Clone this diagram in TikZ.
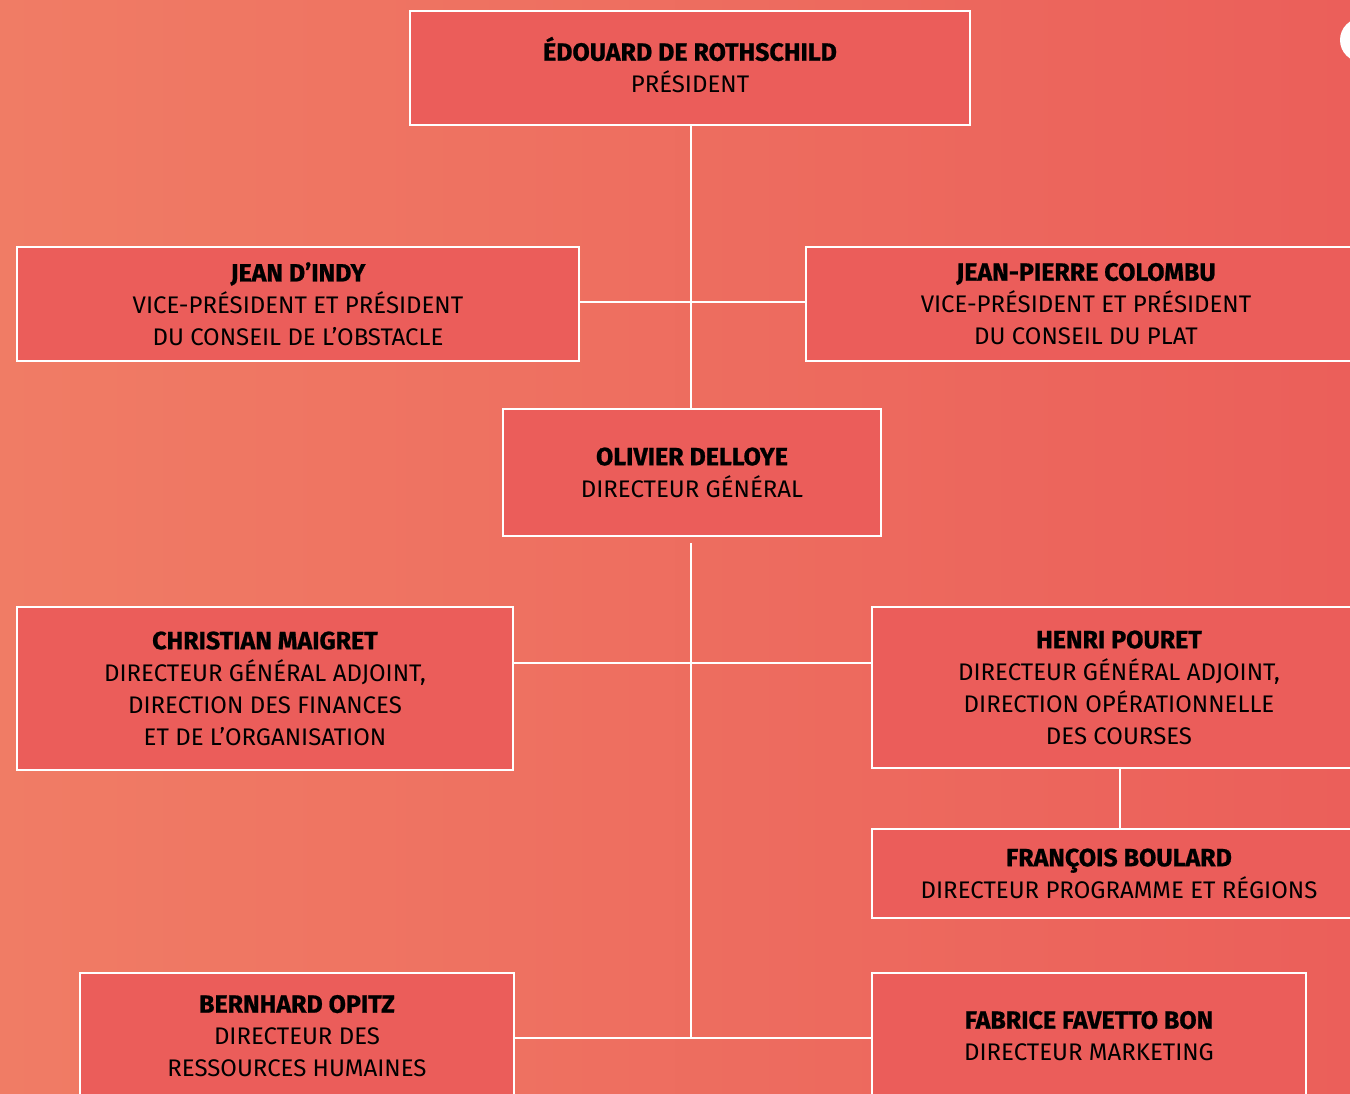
\documentclass[tikz,border=0pt]{standalone}
\usepackage{fontspec}
\setmainfont{Fira Sans}[BoldFeatures={FakeBold=0.8}]
\usetikzlibrary{calc}
\definecolor{bgL}{RGB}{240,124,101}
\definecolor{bgR}{RGB}{235,95,90}
\definecolor{boxfill}{RGB}{235,93,90}
\newcommand{\nm}[1]{{\bfseries\fontsize{12.5pt}{16pt}\selectfont #1}}
\tikzset{
  orgbox/.style={draw=white, line width=0.7pt, fill=boxfill, align=center,
    inner sep=0pt, font=\fontsize{12pt}{16pt}\selectfont, text=black},
  link/.style={draw=white, line width=1pt}
}
\begin{document}
\begin{tikzpicture}[x=0.5pt,y=-0.5pt]
\useasboundingbox (0,0) rectangle (1350,1093);
\shade[left color=bgL, right color=bgR] (0,0) rectangle (1350,1093);
\begin{scope}
\clip (0,0) rectangle (1350,1093);
\node[orgbox, minimum width=280pt, minimum height=57pt] (pres) at (690,68)
  {\nm{\smash{É}DOUARD DE ROTHSCHILD}\\PRÉSIDENT};
\node[orgbox, minimum width=281pt, minimum height=57pt] (indy) at (298,304)
  {\nm{JEAN D’INDY}\\VICE-PRÉSIDENT ET PRÉSIDENT\\DU CONSEIL DE L’OBSTACLE};
\node[orgbox, minimum width=280pt, minimum height=57pt] (colombu) at (1086,304)
  {\nm{JEAN-PIERRE COLOMBU}\\VICE-PRÉSIDENT ET PRÉSIDENT\\DU CONSEIL DU PLAT};
\node[orgbox, minimum width=189pt, minimum height=63.5pt] (delloye) at (692,472.5)
  {\nm{OLIVIER DELLOYE}\\DIRECTEUR GÉNÉRAL};
\node[orgbox, minimum width=248pt, minimum height=81.5pt] (maigret) at (265,688.5)
  {\nm{CHRISTIAN MAIGRET}\\DIRECTEUR GÉNÉRAL ADJOINT,\\DIRECTION DES FINANCES\\ET DE L’ORGANISATION};
\node[orgbox, minimum width=247pt, minimum height=80.5pt] (pouret) at (1119,687.5)
  {\nm{HENRI POURET}\\DIRECTEUR GÉNÉRAL ADJOINT,\\DIRECTION OPÉRATIONNELLE\\DES COURSES};
\node[orgbox, minimum width=247pt, minimum height=44.5pt] (boulard) at (1119,873.5)
  {\nm{FRANÇOIS BOULARD}\\DIRECTEUR PROGRAMME ET RÉGIONS};
\node[orgbox, minimum width=217pt, minimum height=63pt] (opitz) at (297,1036)
  {\nm{BERNHARD OPITZ}\\DIRECTEUR DES\\RESSOURCES HUMAINES};
\node[orgbox, minimum width=217pt, minimum height=63pt] (favetto) at (1089,1036)
  {\nm{FABRICE FAVETTO BON}\\DIRECTEUR MARKETING};
\end{scope}
% connectors
\draw[link] (pres.south -| 691,0) -- (delloye.north -| 691,0);
\draw[link] (indy.east |- 0,302) -- (colombu.west |- 0,302);
\coordinate (trunkTop) at (691,543);
\coordinate (trunkBot) at (691,1038);
\draw[link] (trunkTop) -- (trunkBot);
\draw[link] (maigret.east |- 0,663) -- (pouret.west |- 0,663);
\draw[link] (pouret.south -| 1120,0) -- (boulard.north -| 1120,0);
\draw[link] (opitz.east |- 0,1038) -- (favetto.west |- 0,1038);
% corner circle
\begin{scope}
\clip (0,0) rectangle (1350,1093);
\node[circle, fill=white, minimum size=22pt, inner sep=0pt] (dot) at (1362,40) {};
\end{scope}
\end{tikzpicture}
\end{document}
